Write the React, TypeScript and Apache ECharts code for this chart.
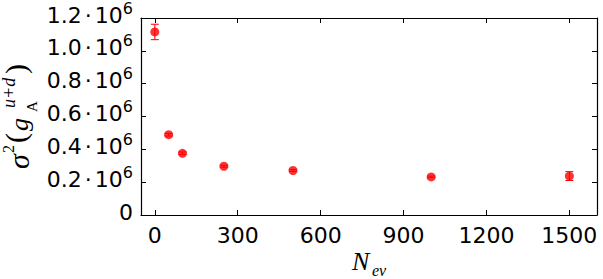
import React, { useEffect, useRef } from "react";
import * as echarts from "echarts";

// Data
const nev = [0, 50, 100, 250, 500, 1000, 1500];
const sigma2 = [1.115e6, 0.489e6, 0.376e6, 0.297e6, 0.271e6, 0.232e6, 0.237e6];
const sigma2Err = [0.047e6, 0.008e6, 0.008e6, 0.006e6, 0.006e6, 0.005e6, 0.027e6];
const xTicks = [0, 300, 600, 900, 1200, 1500];
const yMin = 0;
const yMax = 1.2e6;
const yStep = 0.2e6;

const RED = "#ff0000";
const SERIF = "'Liberation Serif', 'DejaVu Serif', serif";
const SANS = "'DejaVu Sans', sans-serif";

export default function App() {
  const ref = useRef<HTMLDivElement>(null);
  useEffect(() => {
    const chart = echarts.init(ref.current!, null, { renderer: "svg" });
    const axisLine = { show: true, onZero: false, lineStyle: { color: "#000", width: 1.2 } };
    const tickStyle = { color: "#000", width: 1 };
    const yLabelFormatter = (v: number) => {
      if (Math.abs(v) < 1) return "{b|0}";
      return `{b|${(v / 1e6).toFixed(1)}}{d|·}{b|10}{s|6}`;
    };
    const t = (text: string, u: number, v: number, font: string) => ({
      type: "text",
      x: u,
      y: v,
      style: { text, font, fill: "#000", align: "left", verticalAlign: "middle" },
    });
    const option: any = {
      animation: false,
      grid: { left: 141, right: 6, top: 17, bottom: 64 },
      xAxis: [
        {
          type: "value",
          position: "bottom",
          min: -50,
          max: 1600,
          axisLine,
          splitLine: { show: false },
          axisTick: { show: true, inside: true, length: 5, customValues: xTicks, lineStyle: tickStyle },
          axisLabel: {
            customValues: xTicks,
            formatter: (v: number) => String(v),
            fontSize: 22,
            fontFamily: SANS,
            color: "#000",
            margin: 9,
          },
        },
        {
          type: "value",
          position: "top",
          min: -50,
          max: 1600,
          axisLine,
          splitLine: { show: false },
          axisTick: { show: true, inside: true, length: 5, customValues: xTicks, lineStyle: tickStyle },
          axisLabel: { show: false },
        },
      ],
      yAxis: [
        {
          type: "value",
          position: "left",
          min: yMin,
          max: yMax,
          interval: yStep,
          axisLine,
          splitLine: { show: false },
          axisTick: { show: true, inside: true, length: 5, lineStyle: tickStyle },
          axisLabel: {
            formatter: yLabelFormatter,
            margin: 8,
            color: "#000",
            padding: [0, 0, 6, 0],
            rich: {
              b: { fontSize: 22, fontFamily: SANS, color: "#000" },
              d: { fontSize: 22, fontFamily: SANS, color: "#000", padding: [0, 3, 0, 3] },
              s: { fontSize: 16, fontFamily: SANS, color: "#000", padding: [0, 0, 14, 0] },
            },
          },
        },
        {
          type: "value",
          position: "right",
          min: yMin,
          max: yMax,
          interval: yStep,
          axisLine,
          splitLine: { show: false },
          axisTick: { show: true, inside: true, length: 5, lineStyle: tickStyle },
          axisLabel: { show: false },
        },
      ],
      series: [
        {
          type: "custom",
          xAxisIndex: 0,
          yAxisIndex: 0,
          z: 2,
          data: nev.map((x, i) => [x, sigma2[i], sigma2Err[i]]),
          renderItem: (params: any, api: any) => {
            const x = api.value(0);
            const y = api.value(1);
            const e = api.value(2);
            const top = api.coord([x, y + e]);
            const bot = api.coord([x, y - e]);
            const hw = 4;
            const style = { stroke: RED, lineWidth: 1, fill: "none" };
            return {
              type: "group",
              children: [
                { type: "line", shape: { x1: top[0], y1: top[1], x2: bot[0], y2: bot[1] }, style },
                { type: "line", shape: { x1: top[0] - hw, y1: top[1], x2: top[0] + hw, y2: top[1] }, style },
                { type: "line", shape: { x1: bot[0] - hw, y1: bot[1], x2: bot[0] + hw, y2: bot[1] }, style },
              ],
            };
          },
        },
        {
          type: "scatter",
          xAxisIndex: 0,
          yAxisIndex: 0,
          z: 3,
          symbol: "circle",
          symbolSize: 9,
          itemStyle: { color: RED },
          data: nev.map((x, i) => [x, sigma2[i]]),
        },
      ],
      graphic: [
        {
          type: "group",
          x: 28.5,
          y: 115,
          rotation: Math.PI / 2,
          children: [
            t("σ", -54, -10.5, `italic 30px ${SERIF}`),
            t("2", -38, -19.6, `16px ${SERIF}`),
            t("(", -28, -13, `30px ${SERIF}`),
            t("g", -16, -9.1, `italic 26px ${SERIF}`),
            t("A", 3, 3.8, `15px ${SERIF}`),
            t("u+d", 7, -19.3, `italic 18px ${SERIF}`),
            t(")", 41, -13, `30px ${SERIF}`),
          ],
        },
        {
          type: "text",
          x: 352,
          y: 261,
          style: { text: "N", font: `italic 26px ${SERIF}`, fill: "#000", align: "left", verticalAlign: "middle" },
        },
        {
          type: "text",
          x: 372,
          y: 270,
          style: { text: "ev", font: `italic 16px ${SERIF}`, fill: "#000", align: "left", verticalAlign: "middle" },
        },
      ],
    };
    chart.setOption(option);
    return () => chart.dispose();
  }, []);
  return <div ref={ref} style={{ position: "absolute", left: 0, top: 0, width: 603, height: 279 }} />;
}
